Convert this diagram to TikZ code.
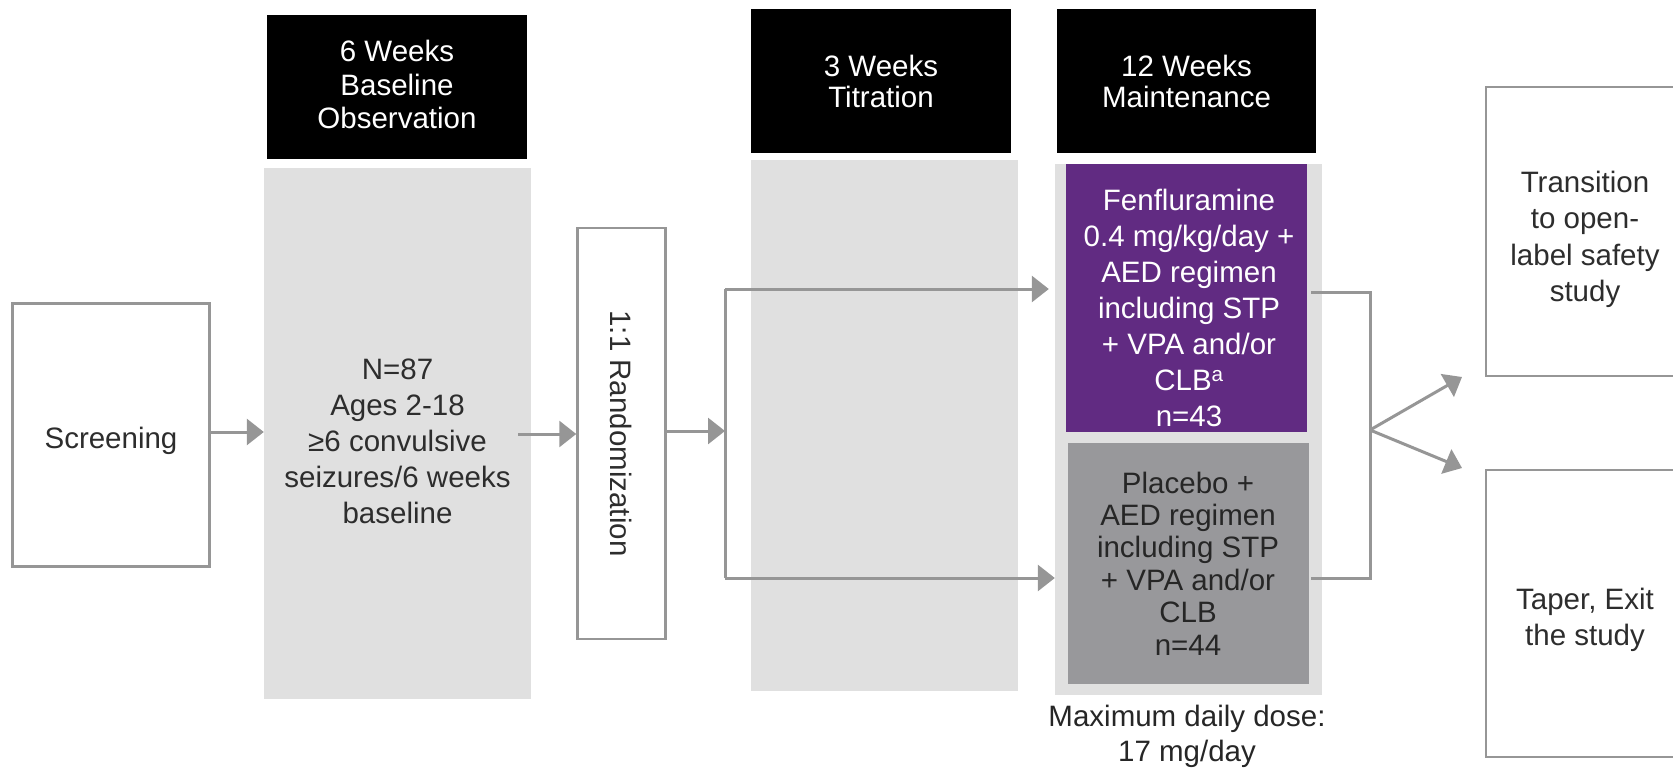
\documentclass[tikz,border=0pt]{standalone}
\usepackage{fontspec}
\setmainfont{Liberation Sans}
\usetikzlibrary{arrows.meta}
\definecolor{fpurple}{RGB}{97,43,130}
\definecolor{pgray}{RGB}{152,152,155}
\definecolor{lgray}{RGB}{224,224,224}
\definecolor{cgray}{RGB}{150,150,150}
\definecolor{tgray}{RGB}{45,45,45}
\begin{document}
\begin{tikzpicture}[x=1pt,y=-1pt,
  every node/.style={font=\fontsize{29.5}{36}\selectfont, align=center, inner sep=0pt},
  header/.style={fill=black, text=white, minimum width=260pt, minimum height=144pt, font=\fontsize{29.5}{31}\selectfont},
  phase/.style={fill=lgray, text=tgray, minimum width=267pt, minimum height=531pt},
  outline/.style={draw=cgray, line width=2.5pt, fill=white, text=tgray},
  conn/.style={draw=cgray, line width=3pt},
  arr/.style={conn, -{Triangle[length=17pt,width=26pt]}},
]
\useasboundingbox (0,0) rectangle (1673,768);
\clip (0,0) rectangle (1673,768);

% headers
\node[header, font=\fontsize{29.5}{33.5}\selectfont] (h1) at (397,87) {};
\node[text=white, font=\fontsize{29.5}{33.5}\selectfont] (h1text) at (397,84.5) {6 Weeks\\Baseline\\Observation};
\node[header] (h2) at (881,81) {3 Weeks\\Titration};
\node[header, minimum width=259pt] (h3) at (1186.5,81) {12 Weeks\\Maintenance};

% phase columns
\node[phase] (g1) at (397.5,433) {};
\node[text=tgray] (g1text) at (397.5,441) {N=87\\Ages 2-18\\≥6 convulsive\\seizures/6 weeks\\baseline};
\node[phase] (g2) at (884,425.5) {};
\node[phase] (g3) at (1188.5,429.5) {};

% arms
\node[fill=fpurple, text=white, minimum width=241pt, minimum height=268pt] (fen) at (1186.5,298) {};
\node[text=white] (fentext) at (1189,307.5) {Fenfluramine\\0.4 mg/kg/day +\\AED regimen\\including STP\\+ VPA and/or\\CLB\textsuperscript{a}\\n=43};
\node[fill=pgray, text=black!85, minimum width=241pt, minimum height=241pt,
      font=\fontsize{29.5}{32.4}\selectfont] (pla) at (1188,563.5) {Placebo +\\AED regimen\\including STP\\+ VPA and/or\\CLB\\n=44};

% outlined boxes
\node[outline, minimum width=197pt, minimum height=263pt] (scr) at (111,435) {};
\node[text=tgray] (scrtext) at (111,441) {Screening};
\node[outline, minimum width=88pt, minimum height=411pt] (rand) at (621.5,433.5) {\rotatebox{-90}{1:1 Randomization}};
\node[outline, minimum width=198pt, minimum height=289pt] (trans) at (1585,231.5) {};
\node[text=tgray, font=\fontsize{29.5}{36.5}\selectfont] (transtext) at (1585,239.5) {Transition\\to open-\\label safety\\study};
\node[outline, minimum width=198pt, minimum height=287pt] (taper) at (1585,613.5) {};
\node[text=tgray] (tapertext) at (1585,619.5) {Taper, Exit\\the study};

\node[text=black!85, font=\fontsize{29.5}{35}\selectfont] (dose) at (1187,736) {Maximum daily dose:\\17 mg/day};

% connectors
\coordinate (sin) at (0,432);
\draw[arr] (scr.east |- sin) -- (g1.west |- sin);
\coordinate (gout) at (518,434);
\draw[arr] (gout) -- (rand.west |- gout);
\coordinate (split) at (725,431);
\coordinate (splitT) at (725,289);
\coordinate (splitB) at (725,578);
\draw[arr] (rand.east |- split) -- (split);
\draw[conn] (splitT) -- (splitB);
\draw[arr, shorten >=6pt] (splitT) -- (g3.west |- splitT);
\draw[arr] (splitB) -- (g3.west |- splitB);

\coordinate (fo) at (1311,292);
\coordinate (po) at (1311,578);
\coordinate (br) at (1370,430);
\draw[conn] (fo) -| (br) |- (po);
\coordinate (tT) at (1462,377);
\coordinate (tB) at (1462,468);
\draw[arr] (br) -- (tT);
\draw[arr] (br) -- (tB);
\end{tikzpicture}
\end{document}
